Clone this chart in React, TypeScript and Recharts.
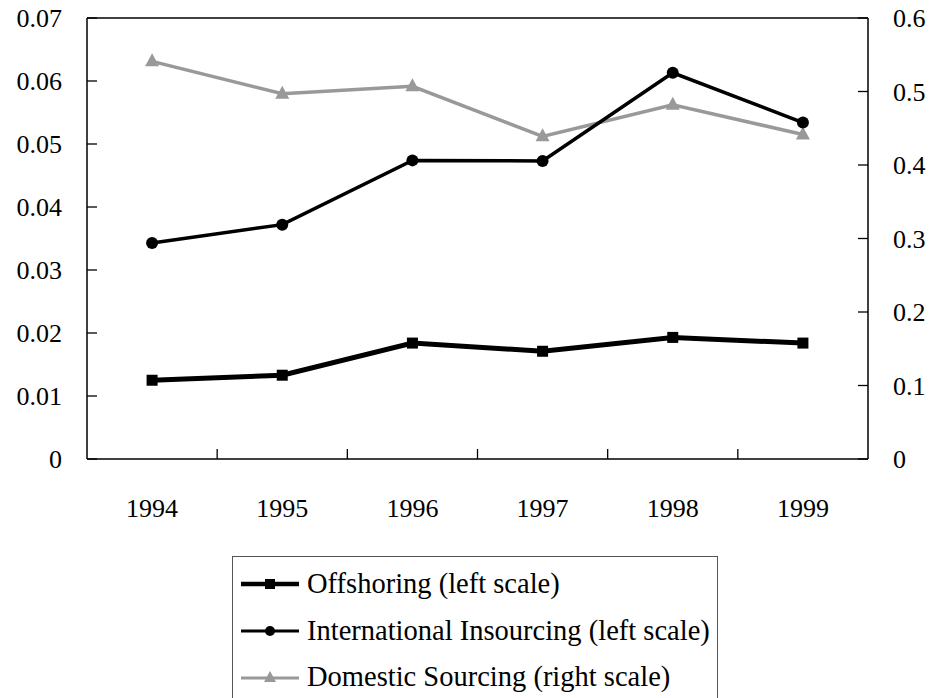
import React from 'react';
import { LineChart, Line, XAxis, YAxis, ReferenceLine } from 'recharts';

// values
const years = ['1994', '1995', '1996', '1997', '1998', '1999'];
const offshoring = [0.0125, 0.0133, 0.0184, 0.0171, 0.0193, 0.0184];
const insourcing = [0.0343, 0.0372, 0.0474, 0.0473, 0.0613, 0.0534];
const domestic = [0.541, 0.497, 0.507, 0.439, 0.482, 0.4415];

const leftTicks = [0, 0.01, 0.02, 0.03, 0.04, 0.05, 0.06, 0.07];
const rightTicks = [0, 0.1, 0.2, 0.3, 0.4, 0.5, 0.6];

const seriesNames = [
    'Offshoring (left scale)',
    'International Insourcing (left scale)',
    'Domestic Sourcing (right scale)',
];

const data = years.map((year, i) => ({
    year,
    offshoring: offshoring[i],
    insourcing: insourcing[i],
    domestic: domestic[i],
}));

const FONT = '"Liberation Serif", "Times New Roman", serif';
const GRAY = '#999999';
const WIDTH = 939;
const HEIGHT = 698;
const LEFT_W = 87;
const RIGHT_W = 71;
const LABEL_GAP = 25;
const TICK_LEN = 10;

const LeftTick = ({ x, y, payload }: any) => (
    <g>
        <line x1={x + LABEL_GAP} x2={x + LABEL_GAP + TICK_LEN} y1={y} y2={y} stroke="#000" strokeWidth={1.3} />
        <text x={x} y={y} dy={9} textAnchor="end" fontFamily={FONT} fontSize={26} fill="#000">
            {payload.value}
        </text>
    </g>
);

const RightTick = ({ x, y, payload }: any) => (
    <g>
        <line x1={x - LABEL_GAP} x2={x - LABEL_GAP - TICK_LEN} y1={y} y2={y} stroke="#000" strokeWidth={1.3} />
        <text x={x} y={y} dy={9} textAnchor="start" fontFamily={FONT} fontSize={26} fill="#000">
            {payload.value}
        </text>
    </g>
);

const YearTick = ({ x, y, payload, index }: any) => {
    const half = payload.offset || (WIDTH - LEFT_W - RIGHT_W) / years.length / 2;
    return (
        <g>
            {index < years.length - 1 && (
                <line x1={x + half} x2={x + half} y1={y} y2={y - TICK_LEN} stroke="#000" strokeWidth={1.3} />
            )}
            <text x={x} y={y} dy={58} textAnchor="middle" fontFamily={FONT} fontSize={26} fill="#000">
                {payload.value}
            </text>
        </g>
    );
};

const SquareDot = ({ cx, cy, index }: any) => (
    <rect key={`sq-${index}`} x={cx - 5.5} y={cy - 5.5} width={11} height={11} fill="#000" />
);

const CircleDot = ({ cx, cy, index }: any) => (
    <circle key={`ci-${index}`} cx={cx} cy={cy} r={6} fill="#000" />
);

const TriangleDot = ({ cx, cy, index }: any) => (
    <polygon
        key={`tr-${index}`}
        points={`${cx},${cy - 8} ${cx - 7},${cy + 5} ${cx + 7},${cy + 5}`}
        fill={GRAY}
    />
);

const legendIcons = [
    (
        <svg width={60} height={14}>
            <line x1={1} x2={59} y1={7} y2={7} stroke="#000" strokeWidth={4.5} />
            <rect x={25} y={2} width={10} height={10} fill="#000" />
        </svg>
    ),
    (
        <svg width={60} height={14}>
            <line x1={1} x2={59} y1={7} y2={7} stroke="#000" strokeWidth={3} />
            <circle cx={30} cy={7} r={5} fill="#000" />
        </svg>
    ),
    (
        <svg width={60} height={14}>
            <line x1={1} x2={59} y1={8} y2={8} stroke={GRAY} strokeWidth={3} />
            <polygon points="30,1 24,12 36,12" fill={GRAY} />
        </svg>
    ),
];

function ChartLegend() {
    return (
        <div
            style={{
                position: 'absolute',
                left: 232,
                top: 556,
                width: 486,
                height: 170,
                border: '1px solid #555',
                boxSizing: 'border-box',
                fontFamily: FONT,
                fontSize: 28.5,
                color: '#000',
                background: '#fff',
            }}
        >
            {seriesNames.map((name, i) => (
                <div
                    key={name}
                    style={{
                        position: 'absolute',
                        left: 7,
                        top: 11 + i * 46.5,
                        height: 32,
                        display: 'flex',
                        alignItems: 'center',
                        whiteSpace: 'nowrap',
                    }}
                >
                    <span style={{ display: 'inline-block', width: 60, height: 14, lineHeight: 0 }}>{legendIcons[i]}</span>
                    <span style={{ marginLeft: 7 }}>{name}</span>
                </div>
            ))}
        </div>
    );
}

export default function App() {
    return (
        <div style={{ position: 'absolute', left: 0, top: 0, width: WIDTH, height: HEIGHT, background: '#fff', overflow: 'hidden' }}>
            <LineChart width={WIDTH} height={HEIGHT} data={data} margin={{ top: 18, right: 0, left: 0, bottom: 0 }}>
                <XAxis
                    dataKey="year"
                    scale="band"
                    height={239}
                    axisLine={{ stroke: '#000', strokeWidth: 1.5 }}
                    tickLine={false}
                    tickSize={0}
                    tickMargin={0}
                    interval={0}
                    tick={<YearTick />}
                />
                <YAxis
                    yAxisId="left"
                    orientation="left"
                    width={LEFT_W}
                    domain={[0, 0.07]}
                    ticks={leftTicks}
                    axisLine={{ stroke: '#000', strokeWidth: 1.5 }}
                    tickLine={false}
                    tickSize={0}
                    tickMargin={LABEL_GAP}
                    interval={0}
                    tick={<LeftTick />}
                />
                <YAxis
                    yAxisId="right"
                    orientation="right"
                    width={RIGHT_W}
                    domain={[0, 0.6]}
                    ticks={rightTicks}
                    axisLine={{ stroke: '#000', strokeWidth: 1.5 }}
                    tickLine={false}
                    tickSize={0}
                    tickMargin={LABEL_GAP}
                    interval={0}
                    tick={<RightTick />}
                />
                <ReferenceLine yAxisId="left" y={0.07} stroke="#000" strokeWidth={1.5} />
                <Line
                    yAxisId="right"
                    dataKey="domestic"
                    name={seriesNames[2]}
                    stroke={GRAY}
                    strokeWidth={3.5}
                    dot={<TriangleDot />}
                    activeDot={false}
                    isAnimationActive={false}
                />
                <Line
                    yAxisId="left"
                    dataKey="insourcing"
                    name={seriesNames[1]}
                    stroke="#000"
                    strokeWidth={3.5}
                    dot={<CircleDot />}
                    activeDot={false}
                    isAnimationActive={false}
                />
                <Line
                    yAxisId="left"
                    dataKey="offshoring"
                    name={seriesNames[0]}
                    stroke="#000"
                    strokeWidth={5}
                    dot={<SquareDot />}
                    activeDot={false}
                    isAnimationActive={false}
                />
            </LineChart>
            <ChartLegend />
        </div>
    );
}
